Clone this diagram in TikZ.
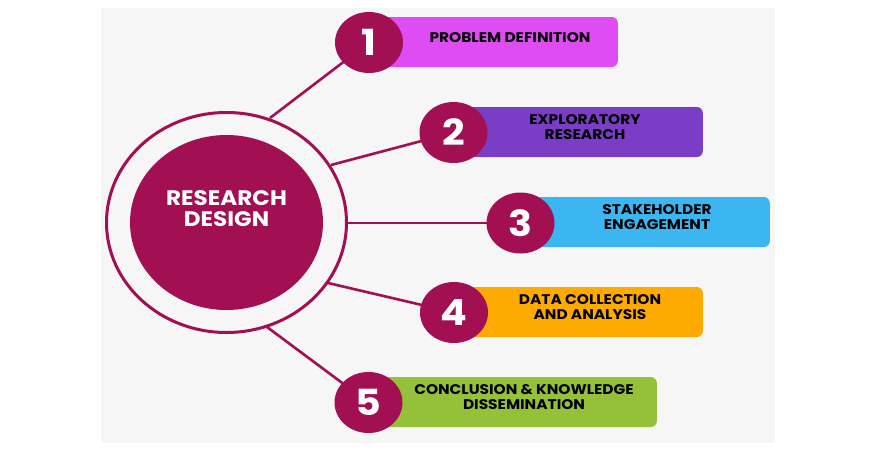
\documentclass[tikz,border=0pt]{standalone}
\usepackage{fontspec}
\setmainfont{Poppins}
\newfontfamily\widefont{Poppins}[FakeStretch=1.1]
\usetikzlibrary{shapes.geometric}
\definecolor{crim}{HTML}{A20F52}
\definecolor{bg}{HTML}{F6F6F6}
\definecolor{cA}{HTML}{E04CF3}
\definecolor{cB}{HTML}{7B3DC6}
\definecolor{cC}{HTML}{3CB6F0}
\definecolor{cD}{HTML}{FFAA00}
\definecolor{cE}{HTML}{95C13A}
\tikzset{
  conn/.style={draw=crim, line width=2.6pt},
  numc/.style={ellipse, fill=crim, minimum width=68pt, minimum height=61pt, inner sep=0pt,
    text=white, font=\widefont\bfseries\fontsize{36}{36}\selectfont},
  boxst/.style={rectangle, rounded corners=6pt, minimum height=50pt, inner sep=0pt, anchor=east},
  lbl/.style={align=center, text=black, inner sep=0pt, font=\widefont\bfseries\fontsize{14}{14.5}\selectfont},
}
\begin{document}
\begin{tikzpicture}[x=1pt,y=-1pt]
\useasboundingbox (0,0) rectangle (880,450);
\fill[white] (0,0) rectangle (880,450);
\fill[bg] (101,8) rectangle (775,443);
% ring points
\coordinate (r1) at (270,118);
\coordinate (r2) at (331,165);
\coordinate (r3) at (346,223);
\coordinate (r4) at (328,283);
\coordinate (r5) at (267,327);
% boxes
\node[boxst, fill=cA, minimum width=249pt] (b1) at (618,42) {};
\node[boxst, fill=cB, minimum width=250pt] (b2) at (703,132) {};
\node[boxst, fill=cC, minimum width=250pt] (b3) at (770,222) {};
\node[boxst, fill=cD, minimum width=249pt] (b4) at (703,312) {};
\node[boxst, fill=cE, minimum width=289pt] (b5) at (657,402) {};
% connectors (drawn under number circles)
\path (369,42.5) coordinate (p1) (453.5,132.5) coordinate (p2) (520.5,223) coordinate (p3)
      (454,312.5) coordinate (p4) (368.5,402.5) coordinate (p5);
\draw[conn] (r1) -- (p1);
\draw[conn] (r2) -- (p2);
\draw[conn] (r3) -- (p3);
\draw[conn] (r4) -- (p4);
\draw[conn] (r5) -- (p5);
% centre
\draw[crim, line width=3pt] (226.5,222.5) ellipse [x radius=120, y radius=110];
\node[ellipse, fill=crim, minimum width=193pt, minimum height=175pt, inner sep=0pt] (c) at (226.5,222.5) {};
\node[text=white, align=center, inner sep=0pt, font=\widefont\bfseries\fontsize{21}{21}\selectfont] (ct) at (226.5,208.5) {RESEARCH\\DESIGN};
% number circles
\node[numc] (n1) at (p1) {1};
\node[numc] (n2) at (p2) {2};
\node[numc] (n3) at (p3) {3};
\node[numc] (n4) at (p4) {4};
\node[numc] (n5) at (p5) {5};
% labels
\node[lbl] (t1) at (510,38) {PROBLEM DEFINITION};
\node[lbl] (t2) at (585,127) {EXPLORATORY\\RESEARCH};
\node[lbl] (t3) at (657,217) {STAKEHOLDER\\ENGAGEMENT};
\node[lbl] (t4) at (590,307) {DATA COLLECTION\\AND ANALYSIS};
\node[lbl] (t5) at (524,397) {CONCLUSION \& KNOWLEDGE\\DISSEMINATION};
\end{tikzpicture}
\end{document}
